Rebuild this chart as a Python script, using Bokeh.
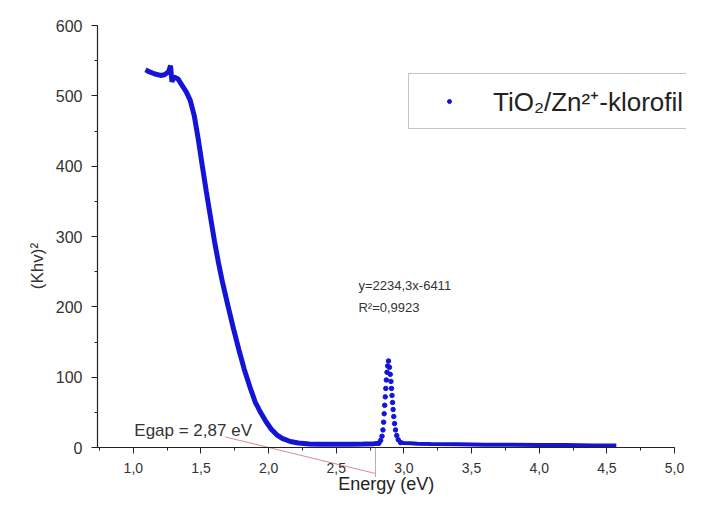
import math
from bokeh.plotting import figure
from bokeh.models import (Range1d, Label, Legend, LegendItem, CustomJSTickFormatter,
                          FixedTicker, ColumnDataSource)
from bokeh.embed import file_html
from bokeh.resources import INLINE

# ---------------- data ----------------
edge_energy = [1.09, 1.12, 1.16, 1.20, 1.23, 1.26, 1.275, 1.285, 1.30, 1.33, 1.36, 1.39,
               1.42, 1.45, 1.48, 1.51, 1.54, 1.57, 1.60, 1.63, 1.66, 1.70, 1.74, 1.78,
               1.82, 1.86, 1.90, 1.94, 1.98, 2.02, 2.06, 2.10, 2.16, 2.22, 2.30, 2.40,
               2.50, 2.60, 2.70, 2.78, 2.815]
edge_khv = [537, 534, 531, 529, 530, 534, 543, 520, 527, 524, 515, 506,
            494, 472, 438, 400, 363, 328, 293, 262, 234, 201, 169, 139,
            111, 87, 65, 50, 37, 26, 18, 13, 8.5, 6.5, 5, 4.5,
            4.5, 4.5, 5, 5.5, 6]

peak_energy = [2.815, 2.828, 2.838, 2.845, 2.850, 2.854, 2.858, 2.862, 2.866, 2.870,
               2.875, 2.880, 2.886, 2.893, 2.899, 2.904, 2.908, 2.912, 2.916, 2.920,
               2.925, 2.931, 2.938, 2.947, 2.958, 2.975]
peak_khv = [6, 10, 16, 25, 36, 48, 60, 72, 84, 96,
            107, 116, 123, 114, 104, 94, 84, 74, 64, 54,
            44, 34, 25, 17, 11, 7]

tail_energy = [2.975, 3.00, 3.05, 3.10, 3.20, 3.40, 3.60, 3.80, 4.00, 4.20, 4.40, 4.57]
tail_khv = [7, 6.5, 6, 5.5, 5, 4.5, 4, 4, 3.5, 3.5, 3, 3]

x_ticks = [1.0, 1.5, 2.0, 2.5, 3.0, 3.5, 4.0, 4.5, 5.0]
y_ticks = [0, 100, 200, 300, 400, 500, 600]

series_name = "TiO\u2082/Zn\u00b2\u207a-klorofil"
x_title = "Energy (eV)"
y_title = "(Khv)\u00b2"
fit_text = "y=2234,3x-6411"
r2_text = "R\u00b2=0,9923"
egap_text = "Egap = 2,87 eV"

# annotation positions (data units)
fit_line_x = [1.68, 2.79]
fit_line_y = [15, -37]
pointer_x = [2.79, 2.79]
pointer_y = [0, -42]

# ---------------- layout (pixels) ----------------
W, H = 686, 495
AX_LEFT_PX = 97      # y axis position
X_MIN, X_MAX = 0.735, 5.0
X_MAX_PX = 674
Y_TOP_PX, Y_ZERO_PX = 25, 447
Y_MAX = 600

sx = (X_MAX_PX - AX_LEFT_PX) / (X_MAX - X_MIN)
sy = (Y_ZERO_PX - Y_TOP_PX) / Y_MAX
x_start = X_MIN - AX_LEFT_PX / sx
x_end = x_start + W / sx
y_end = Y_MAX + Y_TOP_PX / sy
y_start = y_end - H / sy

BLUE = "#1414d8"
FONT = "Liberation Sans"

p = figure(width=W, height=H, output_backend="svg", toolbar_location=None,
           title=None, x_range=Range1d(x_start, x_end), y_range=Range1d(y_start, y_end),
           min_border_left=0, min_border_right=0, min_border_top=0, min_border_bottom=0)
p.outline_line_color = None
p.xgrid.visible = False
p.ygrid.visible = False
p.background_fill_color = "white"
p.border_fill_color = "white"

# axes
xa = p.xaxis[0]
xa.fixed_location = 0
xa.bounds = (X_MIN, X_MAX)
xa.ticker = FixedTicker(ticks=x_ticks,
                        minor_ticks=[0.75 + 0.25 * i for i in range(18)])
xa.formatter = CustomJSTickFormatter(code="return tick.toFixed(1).replace('.', ',')")

ya = p.yaxis[0]
ya.fixed_location = X_MIN
ya.bounds = (0, Y_MAX)
ya.ticker = FixedTicker(ticks=y_ticks, minor_ticks=[50 * i for i in range(13)])

for ax in (xa, ya):
    ax.axis_line_color = "#222222"
    ax.axis_line_width = 1.2
    ax.major_tick_line_color = "#222222"
    ax.minor_tick_line_color = "#222222"
    ax.major_tick_in = 0
    ax.major_tick_out = 6
    ax.minor_tick_in = 0
    ax.minor_tick_out = 3
    ax.major_label_text_font = FONT
    ax.major_label_text_color = "#333333"
    ax.major_label_standoff = 9
xa.major_label_text_font_size = "14px"
ya.major_label_text_font_size = "16px"

# data
edge_src = ColumnDataSource(dict(x=edge_energy, y=edge_khv))
tail_src = ColumnDataSource(dict(x=tail_energy, y=tail_khv))
peak_src = ColumnDataSource(dict(x=peak_energy, y=peak_khv))
p.line("x", "y", source=edge_src, line_color=BLUE, line_width=5)
p.line("x", "y", source=tail_src, line_color=BLUE, line_width=4)
pts = p.scatter("x", "y", source=peak_src, size=4.5, marker="circle",
                fill_color=BLUE, line_color=BLUE)

# annotation lines
p.line(fit_line_x, fit_line_y, line_color="#d68c8c", line_width=1)
p.line(pointer_x, pointer_y, line_color="#b0b0b0", line_width=1)

# texts
def add_label(x, y, text, size, angle=0.0, align="left", color="#333333"):
    p.add_layout(Label(x=x, y=y, text=text, text_font=FONT, text_font_size=size,
                       text_color=color, text_baseline="middle", text_align=align,
                       angle=angle))

add_label(2.664, 230, fit_text, "13px")
add_label(2.664, 199, r2_text, "13px")
add_label(1.007, 24, egap_text, "17px")
add_label(0.29, 258, y_title, "17px", angle=math.pi / 2, align="center")
add_label(2.87, -52, x_title, "18px", align="center", color="#222222")

# legend
legend = Legend(items=[LegendItem(label=series_name, renderers=[pts])],
                location=(408, 366), padding=9, glyph_width=62, glyph_height=10,
                label_standoff=13, label_text_font=FONT, label_text_font_size="26px",
                label_text_color="#222222", label_height=30, border_line_color="#8a8a8a",
                border_line_width=1, background_fill_color="white", background_fill_alpha=1.0,
                margin=0, spacing=0)
p.add_layout(legend, "center")

open("out.html", "w").write(file_html(p, INLINE))
